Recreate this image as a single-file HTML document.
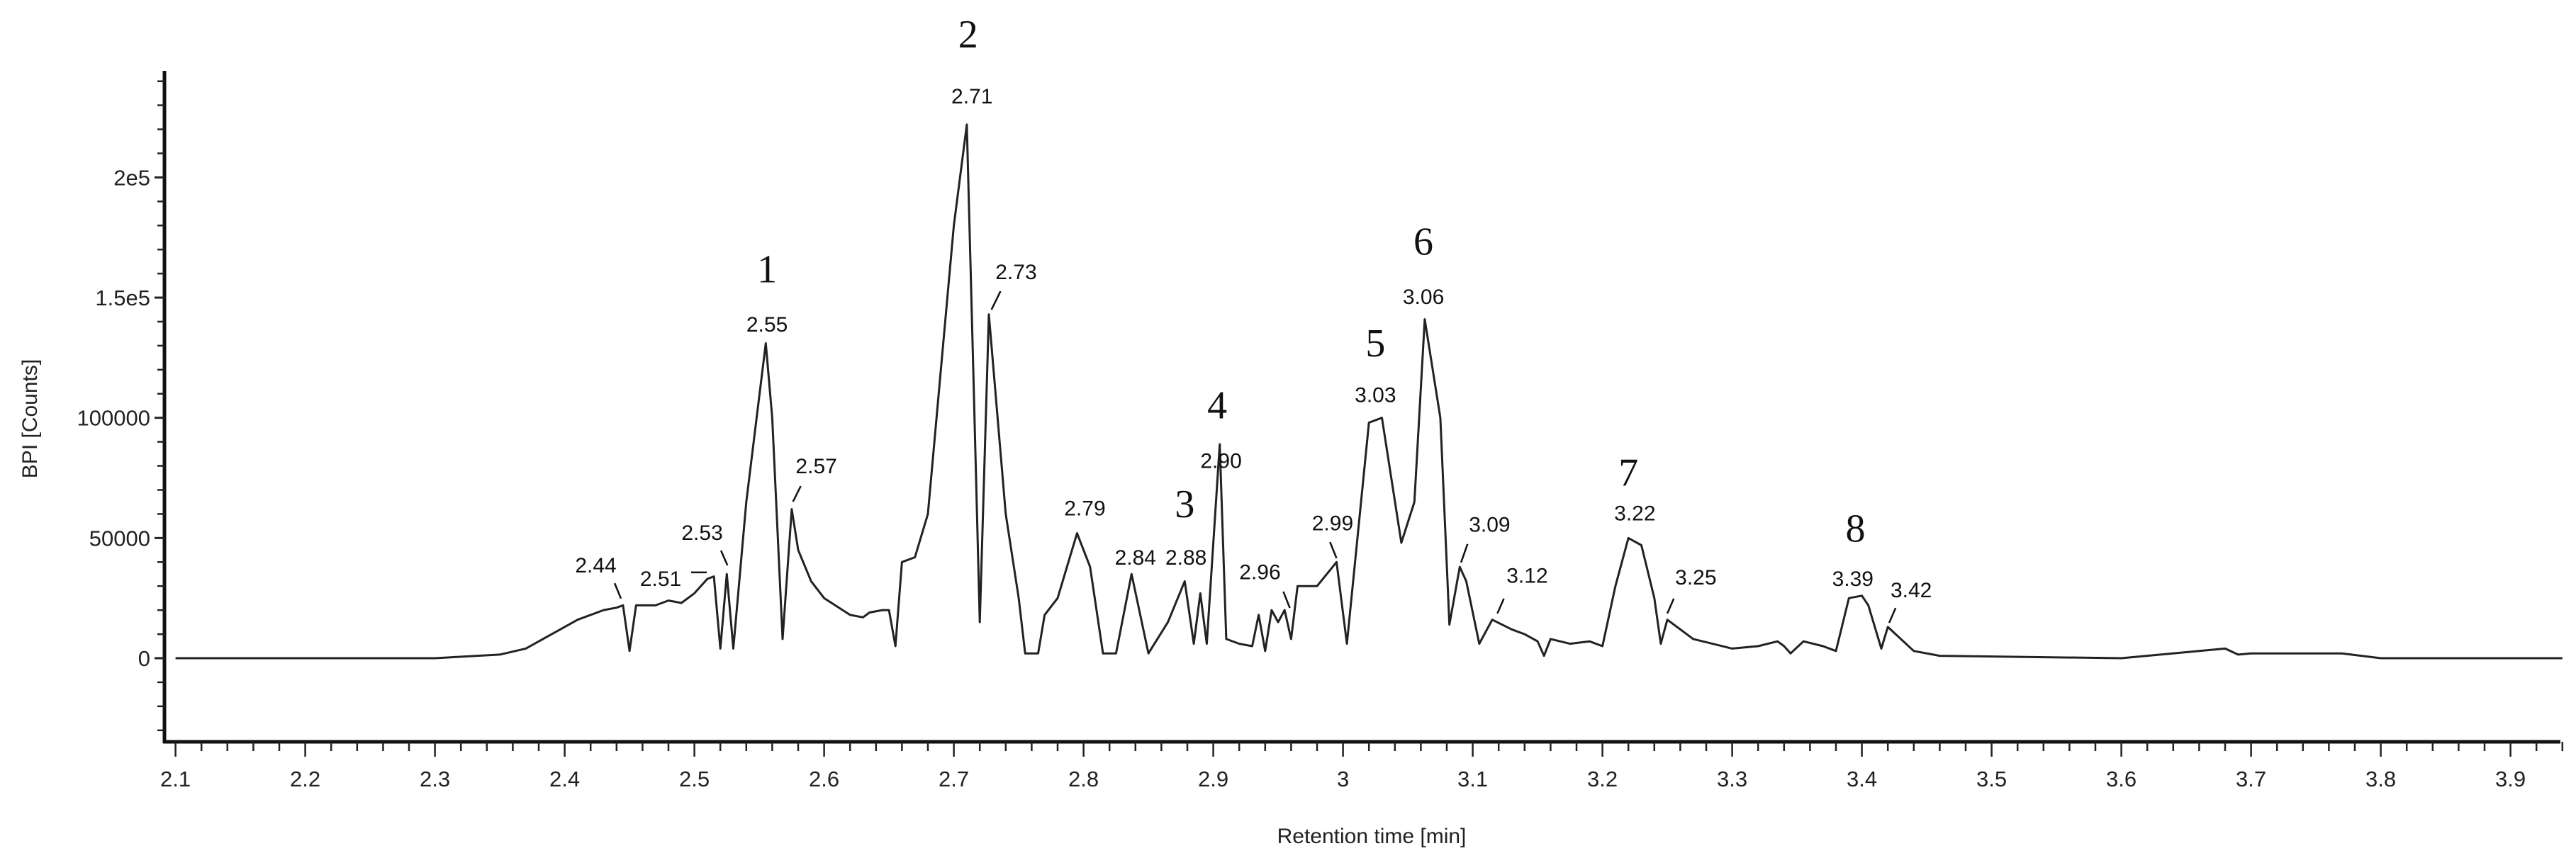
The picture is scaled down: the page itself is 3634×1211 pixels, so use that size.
<!DOCTYPE html>
<html><head><meta charset="utf-8"><style>
html,body{margin:0;padding:0;background:#fff;}
svg{display:block;font-family:"Liberation Sans",sans-serif;}
</style></head><body>
<svg id="chart" width="3634" height="1211" viewBox="0 0 3634 1211" xmlns="http://www.w3.org/2000/svg">
<g id="axes"></g>
<path id="trace" fill="none" stroke="#222" stroke-width="3" stroke-linejoin="round"></path>
<g id="ann"></g>
<text transform="translate(52,591) rotate(-90)" text-anchor="middle" font-size="30" fill="#222">BPI [Counts]</text>
<text x="1935" y="1190" text-anchor="middle" font-size="30" fill="#222">Retention time [min]</text>
</svg>
<script>
const times=[2.10,2.30,2.35,2.37,2.39,2.41,2.43,2.44,2.445,2.45,2.455,2.47,2.48,2.49,2.50,2.51,2.515,2.52,2.525,2.53,2.54,2.555,2.56,2.568,2.575,2.58,2.59,2.60,2.62,2.63,2.635,2.645,2.65,2.655,2.66,2.67,2.68,2.69,2.70,2.71,2.715,2.72,2.727,2.74,2.75,2.755,2.765,2.77,2.78,2.795,2.805,2.815,2.825,2.837,2.85,2.865,2.878,2.885,2.89,2.895,2.905,2.91,2.92,2.93,2.935,2.94,2.945,2.95,2.955,2.96,2.965,2.98,2.995,3.003,3.02,3.03,3.045,3.055,3.063,3.075,3.082,3.09,3.095,3.105,3.115,3.13,3.14,3.15,3.155,3.16,3.175,3.19,3.20,3.21,3.22,3.23,3.24,3.245,3.25,3.27,3.30,3.32,3.335,3.34,3.345,3.355,3.37,3.38,3.39,3.40,3.405,3.415,3.42,3.44,3.46,3.6,3.68,3.69,3.70,3.77,3.8,3.94];
const counts=[0,0,1500,4000,10000,16000,20000,21000,22000,3000,22000,22000,24000,23000,27000,33000,34000,4000,35000,4000,65000,131000,100000,8000,62000,45000,32000,25000,18000,17000,19000,20000,20000,5000,40000,42000,60000,120000,180000,222000,120000,15000,143000,60000,25000,2000,2000,18000,25000,52000,38000,2000,2000,35000,2000,15000,32000,6000,27000,6000,89000,8000,6000,5000,18000,3000,20000,15000,20000,8000,30000,30000,40000,6000,98000,100000,48000,65000,141000,100000,14000,38000,32000,6000,16000,12000,10000,7000,1000,8000,6000,7000,5000,30000,50000,47000,25000,6000,16000,8000,4000,5000,7000,5000,2000,7000,5000,3000,25000,26000,22000,4000,13000,3000,1000,0,4000,1500,2000,2000,0,0];
const xTickLabels=["2.1","2.2","2.3","2.4","2.5","2.6","2.7","2.8","2.9","3","3.1","3.2","3.3","3.4","3.5","3.6","3.7","3.8","3.9"];
const yTickValues=[0,50000,100000,150000,200000];
const yTickLabels=["0","50000","100000","1.5e5","2e5"];
const rtLabels=["2.44","2.51","2.53","2.55","2.57","2.71","2.73","2.79","2.84","2.88","2.90","2.96","2.99","3.03","3.06","3.09","3.12","3.22","3.25","3.39","3.42"];
const rtLabelX=[2.424,2.474,2.506,2.556,2.594,2.714,2.748,2.801,2.840,2.879,2.906,2.936,2.992,3.025,3.062,3.113,3.142,3.225,3.272,3.393,3.438];
const rtLabelY=[35700,30100,49200,135800,76900,230700,157700,59400,38900,38900,79200,32800,53200,106500,147400,52600,31400,57300,30700,30000,25300];
const peakNums=["1","2","3","4","5","6","7","8"];
const peakNumX=[2.556,2.711,2.878,2.903,3.025,3.062,3.220,3.395];
const peakNumY=[156300,254000,58700,99700,125600,167900,71700,48500];
const leaderT1=[2.4385,2.4975,2.5205,2.582,2.736,2.954,2.990,3.096,3.124,3.255,3.426];
const leaderV1=[31200,35700,44800,71600,152700,27700,48300,47500,24800,24800,20900];
const leaderT2=[2.4434,2.5095,2.5255,2.576,2.729,2.959,2.995,3.091,3.119,3.250,3.421];
const leaderV2=[24800,35700,38600,65100,145000,20900,41600,39800,18600,18600,14700];
const NS="http://www.w3.org/2000/svg";
const X=t=>247.6+(t-2.1)*1830;
const Y=v=>929-v*0.003393;
const axes=document.getElementById('axes');
function mk(tag,attrs,parent){const e=document.createElementNS(NS,tag);for(const k in attrs)e.setAttribute(k,attrs[k]);parent.appendChild(e);return e;}
let l=mk('line',{x1:232,y1:100,x2:232,y2:1049,stroke:'#111','stroke-width':5},axes);


l=mk('line',{x1:230,y1:1047,x2:3612,y2:1047,stroke:'#111','stroke-width':5},axes);


for(let v=-30000;v<=240000;v+=10000){
  const major=v%50000===0;
  const t=mk('line',{x1:major?218:222,y1:Y(v),x2:232,y2:Y(v),stroke:'#222','stroke-width':major?3:2.5},axes);
  
  
}
yTickValues.forEach((v,i)=>{
  const t=mk('text',{x:212,y:Y(v)+11,'text-anchor':'end','font-size':31,fill:'#222'},axes);
  t.textContent=yTickLabels[i];
  
  
});
for(let k=0;k<=92;k++){
  const tv=2.1+k*0.02;
  const major=k%5===0;
  const t=mk('line',{x1:X(tv),y1:1047,x2:X(tv),y2:major?1068:1060,stroke:'#222','stroke-width':2.5},axes);
  
  
}
xTickLabels.forEach((s,i)=>{
  const t=mk('text',{x:X(2.1+i*0.1),y:1110,'text-anchor':'middle','font-size':31,fill:'#222'},axes);
  t.textContent=s;
  
  
});
document.getElementById('trace').setAttribute('d',times.map((t,i)=>(i?'L':'M')+X(t).toFixed(1)+' '+Y(counts[i]).toFixed(1)).join(' '));
const ann=document.getElementById('ann');
rtLabels.forEach((s,i)=>{
  const t=mk('text',{x:X(rtLabelX[i]),y:Y(rtLabelY[i]),'text-anchor':'middle','font-size':30,fill:'#111'},ann);
  t.textContent=s;
  
  
});
leaderT1.forEach((t1,i)=>{
  const e=mk('line',{x1:X(t1),y1:Y(leaderV1[i]),x2:X(leaderT2[i]),y2:Y(leaderV2[i]),stroke:'#111','stroke-width':2.5},ann);
  
  
});
peakNums.forEach((s,i)=>{
  const t=mk('text',{x:X(peakNumX[i]),y:Y(peakNumY[i]),'text-anchor':'middle','font-size':56,fill:'#111','font-family':'Liberation Serif, serif'},ann);
  t.textContent=s;
  
  
});
</script>
</body></html>
